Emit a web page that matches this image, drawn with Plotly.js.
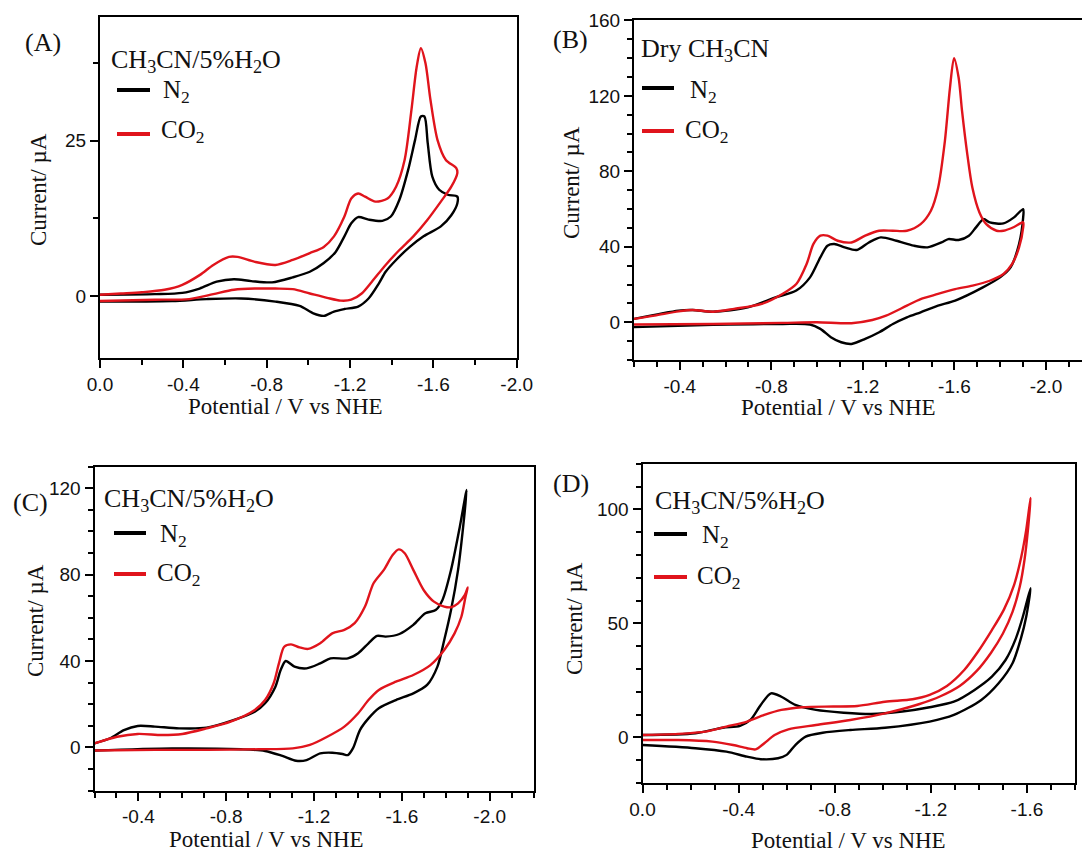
<!DOCTYPE html>
<html><head><meta charset="utf-8">
<script src="https://cdn.plot.ly/plotly-3.0.1.min.js"></script>
<style>html,body{margin:0;padding:0;background:#fff}#chart{width:1082px;height:856px}</style>
</head><body><div id="chart"></div>
<script>
// ---------- Panel A: CH3CN/5%H2O ----------
const aN2V = [0, -0.263, -0.395, -0.478, -0.56, -0.643, -0.726, -0.826, -0.925, -1.007, -1.074, -1.131, -1.173, -1.206, -1.239, -1.289, -1.355, -1.396, -1.437, -1.479, -1.512, -1.54, -1.557, -1.573, -1.595, -1.628, -1.669, -1.715,
  -1.715, -1.686, -1.636, -1.553, -1.487, -1.421, -1.371, -1.338, -1.289, -1.239, -1.173, -1.123, -1.074, -1.024, -0.958, -0.842, -0.677, -0.511, -0.346, 0];
const aN2I = [0.2, 0.3, 0.5, 1.2, 2.3, 2.7, 2.4, 2.2, 3.0, 3.9, 5.3, 7.1, 9.6, 11.7, 12.7, 12.3, 12.1, 12.8, 15.5, 20.3, 25.1, 28.9, 28.9, 24.6, 19.2, 17.1, 16.3, 16.0,
  14.9, 13.0, 11.2, 9.6, 7.9, 5.8, 3.9, 2.0, -0.4, -1.7, -2.1, -2.5, -3.2, -2.8, -1.6, -0.9, -0.4, -0.5, -0.8, -0.9];
const aCO2V = [0, -0.1, -0.2, -0.31, -0.395, -0.48, -0.544, -0.619, -0.66, -0.743, -0.842, -0.925, -1.007, -1.074, -1.123, -1.173, -1.206, -1.239, -1.272, -1.322, -1.38, -1.421, -1.462, -1.495, -1.52, -1.54, -1.562, -1.586, -1.62, -1.66, -1.71,
  -1.715, -1.686, -1.636, -1.57, -1.504, -1.437, -1.371, -1.305, -1.256, -1.206, -1.156, -1.09, -1.007, -0.925, -0.842, -0.743, -0.643, -0.544, -0.428, -0.263, 0];
const aCO2I = [0.2, 0.4, 0.6, 1.0, 1.8, 3.4, 5.0, 6.3, 6.3, 5.5, 5.0, 5.8, 6.9, 7.9, 9.6, 12.8, 15.7, 16.5, 16.0, 15.2, 15.7, 17.6, 21.9, 30.0, 36.9, 39.9, 37.5, 31.6, 25.1, 21.9, 20.6,
  19.8, 17.6, 15.2, 12.2, 9.6, 7.4, 5.0, 2.3, 0.4, -0.6, -0.75, -0.3, 0.4, 1.1, 1.2, 1.2, 1.0, 0.3, -0.5, -0.6, -0.8];

// ---------- Panel B: Dry CH3CN ----------
const bN2V = [-0.2, -0.395, -0.456, -0.546, -0.697, -0.818, -0.909, -0.969, -1.014, -1.045, -1.075, -1.12, -1.173, -1.226, -1.278, -1.346, -1.422, -1.482, -1.543, -1.573, -1.618, -1.663, -1.694, -1.727, -1.754, -1.814, -1.86, -1.9,
  -1.9, -1.882, -1.845, -1.799, -1.724, -1.603, -1.528, -1.452, -1.392, -1.331, -1.271, -1.21, -1.15, -1.105, -1.06, -1.014, -0.969, -0.848, -0.546, -0.2];
const bN2I = [1.8, 6.2, 6.5, 5.6, 7.9, 13.2, 16.8, 23.8, 34.4, 40.6, 41.5, 39.7, 38.3, 42.3, 45.0, 43.2, 40.6, 39.7, 42.3, 44.1, 43.6, 45.9, 50.3, 54.7, 52.9, 52.4, 55.6, 60.0,
  55.6, 41.5, 29.1, 23.8, 18.5, 11.5, 8.8, 5.3, 2.6, -0.9, -5.3, -8.8, -11.5, -10.6, -7.9, -3.5, -1.2, -0.9, -1.4, -2.6];
const bCO2V = [-0.2, -0.29, -0.395, -0.456, -0.546, -0.637, -0.758, -0.848, -0.909, -0.954, -0.984, -1.014, -1.045, -1.09, -1.15, -1.21, -1.271, -1.331, -1.392, -1.452, -1.497, -1.528, -1.558, -1.58, -1.598, -1.618, -1.633, -1.656, -1.678, -1.709, -1.739, -1.784, -1.814, -1.86, -1.9,
  -1.9, -1.882, -1.852, -1.814, -1.754, -1.679, -1.603, -1.528, -1.452, -1.392, -1.301, -1.241, -1.15, -0.999, -0.848, -0.546, -0.2];
const bCO2I = [1.8, 3.5, 5.8, 6.5, 5.6, 7.1, 9.7, 15.0, 20.3, 30.9, 41.5, 45.9, 45.9, 43.2, 42.3, 45.9, 48.5, 48.5, 48.5, 52.0, 59.1, 71, 96, 124, 140, 129.7, 112, 89, 71.4, 58.2, 52, 48.5, 48.5, 50.5, 53,
  50.3, 39.7, 30.9, 25.6, 22, 19.4, 17.6, 15.0, 12.3, 8.8, 3.5, 1.2, -0.5, 0, -0.35, -0.9, -1.2];

// ---------- Panel C: CH3CN/5%H2O ----------
const cN2V = [-0.2, -0.271, -0.334, -0.397, -0.475, -0.585, -0.711, -0.836, -0.93, -0.977, -1.024, -1.048, -1.071, -1.111, -1.166, -1.228, -1.275, -1.354, -1.401, -1.448, -1.487, -1.526, -1.589, -1.652, -1.707, -1.754, -1.785, -1.824, -1.864, -1.895,
  -1.884, -1.856, -1.824, -1.793, -1.762, -1.715, -1.652, -1.573, -1.495, -1.448, -1.409, -1.377, -1.354, -1.33, -1.283, -1.228, -1.166, -1.118, -1.056, -0.977, -0.867, -0.554, -0.2];
const cN2I = [1.85, 4.2, 8.0, 9.9, 9.6, 8.8, 9.1, 12.7, 16.5, 20.4, 28.1, 35.8, 40.0, 37.4, 36.6, 38.9, 41.2, 41.2, 43.6, 48.2, 51.6, 51.3, 52.5, 56.7, 62.1, 63.6, 68.3, 82.2, 102.2, 119.2,
  106.9, 82.2, 63.6, 49.7, 37.4, 28.9, 25.0, 21.9, 18.1, 13.4, 8.0, -0.5, -3.6, -3.1, -2.5, -2.8, -5.9, -6.2, -4.0, -1.7, -0.9, -0.5, -1.5];
const cCO2V = [-0.2, -0.303, -0.397, -0.507, -0.6, -0.711, -0.82, -0.93, -0.977, -1.016, -1.04, -1.064, -1.095, -1.134, -1.173, -1.228, -1.283, -1.338, -1.385, -1.432, -1.471, -1.518, -1.558, -1.586, -1.613, -1.652, -1.699, -1.746, -1.793, -1.824, -1.856, -1.887, -1.9,
  -1.89, -1.871, -1.84, -1.793, -1.73, -1.652, -1.573, -1.495, -1.448, -1.401, -1.338, -1.26, -1.181, -1.103, -0.946, -0.711, -0.475, -0.2];
const cCO2I = [1.85, 4.9, 6.2, 5.7, 6.2, 8.8, 11.9, 17.3, 21.9, 29.7, 38.9, 46.6, 47.7, 46.3, 45.6, 48.2, 52.8, 54.4, 57.5, 65.2, 76, 82.2, 89.1, 91.7, 89.9, 82.2, 72.9, 67.5, 65.2, 64.9, 66.7, 70.6, 74.1,
  69.8, 60.5, 52.8, 45.1, 38.1, 33.5, 30.4, 26.6, 21.9, 15.8, 9.6, 4.9, 1.1, -0.5, -0.9, -1.2, -1.2, -1.5];

// ---------- Panel D: CH3CN/5%H2O ----------
const dN2V = [0, -0.22, -0.334, -0.406, -0.449, -0.492, -0.535, -0.578, -0.636, -0.722, -0.837, -0.951, -1.081, -1.195, -1.296, -1.382, -1.454, -1.511, -1.554, -1.583, -1.615,
  -1.597, -1.575, -1.54, -1.482, -1.41, -1.296, -1.195, -1.009, -0.865, -0.75, -0.679, -0.636, -0.6, -0.564, -0.492, -0.435, -0.349, -0.22, 0];
const dN2I = [1.0, 1.8, 4.2, 5.0, 7.6, 14.2, 19.3, 17.8, 14.2, 12.0, 10.8, 10.2, 11.3, 13.2, 15.6, 20.8, 26.6, 33.9, 43.4, 52.9, 65.4,
  52.9, 43.4, 32.5, 23.7, 16.4, 9.8, 6.9, 4.2, 3.2, 2.0, 0.3, -3.4, -7.7, -9.2, -9.6, -8.5, -6.3, -4.8, -3.4];
const dCO2V = [0, -0.148, -0.263, -0.349, -0.435, -0.507, -0.578, -0.664, -0.794, -0.894, -1.009, -1.124, -1.195, -1.267, -1.339, -1.396, -1.454, -1.504, -1.547, -1.576, -1.597, -1.615,
  -1.605, -1.59, -1.57, -1.54, -1.5, -1.45, -1.39, -1.32, -1.24, -1.15, -1.009, -0.865, -0.722, -0.607, -0.55, -0.507, -0.471, -0.435, -0.377, -0.291, -0.148, 0];
const dCO2I = [1.0, 1.5, 2.5, 4.7, 6.9, 9.8, 12.0, 13.2, 13.5, 13.7, 15.6, 16.7, 18.6, 22.5, 29.5, 37.5, 47, 56, 67, 79, 91, 105,
  92, 78, 66, 55, 45.5, 37, 29, 22.5, 18, 14.5, 10.5, 7.6, 5.4, 3.5, 1.0, -2.6, -5.3, -4.8, -3.4, -1.9, -1.2, -1.2];

// ---------- Tick labels ----------
const xTicksA = [0, -0.4, -0.8, -1.2, -1.6, -2.0];
const xTextA  = ['0.0', '-0.4', '-0.8', '-1.2', '-1.6', '-2.0'];
const xTicksBC = [-0.4, -0.8, -1.2, -1.6, -2.0];
const xTextBC  = ['-0.4', '-0.8', '-1.2', '-1.6', '-2.0'];
const xTicksD = [0, -0.4, -0.8, -1.2, -1.6];
const xTextD  = ['0.0', '-0.4', '-0.8', '-1.2', '-1.6'];
const yTicksA = [0, 25];
const yTicksB = [0, 40, 80, 120, 160];
const yTicksC = [0, 40, 80, 120];
const yTicksD = [0, 50, 100];

// ---------- Texts ----------
const panelLetters = ['(A)', '(B)', '(C)', '(D)'];
const solventLabels = ['CH<sub>3</sub>CN/5%H<sub>2</sub>O', 'Dry CH<sub>3</sub>CN', 'CH<sub>3</sub>CN/5%H<sub>2</sub>O', 'CH<sub>3</sub>CN/5%H<sub>2</sub>O'];
const seriesNames = ['N<sub>2</sub>', 'CO<sub>2</sub>'];
const xTitle = 'Potential / V vs NHE';
const yTitle = 'Current/ \u00b5A';

// ---------- Styling / layout ----------
const W = 1082, H = 856;
const px = x => x / W;
const py = y => 1 - y / H;
const BLACK = '#000000', RED = '#e0141c';
const SERIF = 'Liberation Serif, Times New Roman, serif';
const SANS = 'Liberation Sans, Arial, sans-serif';

function xAxis(anchor, dom, range, vals, text, minorD) {
  return {
    anchor: anchor, domain: dom, range: range,
    tickmode: 'array', tickvals: vals, ticktext: text,
    showline: true, linecolor: '#000', linewidth: 2, mirror: true,
    ticks: 'outside', ticklen: 8, tickwidth: 2, tickcolor: '#000',
    minor: {tickmode: 'linear', tick0: 0, dtick: minorD, ticks: 'outside', ticklen: 5, tickwidth: 2, tickcolor: '#000', showgrid: false},
    showgrid: false, zeroline: false, automargin: false,
    tickfont: {family: SANS, size: 19, color: '#111'}
  };
}
function yAxis(anchor, dom, range, vals, minorD, mirror) {
  return {
    anchor: anchor, domain: dom, range: range,
    tickmode: 'array', tickvals: vals, ticktext: vals.map(String),
    showline: true, linecolor: '#000', linewidth: 2, mirror: mirror,
    ticks: 'outside', ticklen: 8, tickwidth: 2, tickcolor: '#000',
    minor: {tickmode: 'linear', tick0: 0, dtick: minorD, ticks: 'outside', ticklen: 5, tickwidth: 2, tickcolor: '#000', showgrid: false},
    showgrid: false, zeroline: false, automargin: false,
    tickfont: {family: SANS, size: 19, color: '#111'}
  };
}

function tr(x, y, ax, color, name) {
  return {x: x, y: y, xaxis: 'x' + ax, yaxis: 'y' + ax, mode: 'lines', showlegend: false, name: name,
    line: {color: color, width: 2.4, shape: 'spline', smoothing: 0.8}, hoverinfo: 'skip'};
}
const data = [
  tr(aN2V, aN2I, '', BLACK, seriesNames[0]), tr(aCO2V, aCO2I, '', RED, seriesNames[1]),
  tr(bN2V, bN2I, '2', BLACK, seriesNames[0]), tr(bCO2V, bCO2I, '2', RED, seriesNames[1]),
  tr(cN2V, cN2I, '3', BLACK, seriesNames[0]), tr(cCO2V, cCO2I, '3', RED, seriesNames[1]),
  tr(dN2V, dN2I, '4', BLACK, seriesNames[0]), tr(dCO2V, dCO2I, '4', RED, seriesNames[1])
];

const layout = {
  width: W, height: H, margin: {l: 0, r: 0, t: 0, b: 0},
  paper_bgcolor: '#fff', plot_bgcolor: '#fff', showlegend: false,
  xaxis:  xAxis('y',  [px(100), px(516.7)], [0, -2.0], xTicksA, xTextA, 0.2),
  yaxis:  yAxis('x',  [py(358.1), py(16.5)], [-10, 45], yTicksA, 12.5, true),
  xaxis2: xAxis('y2', [px(634), 1], [-0.2, -2.157], xTicksBC, xTextBC, 0.1),
  yaxis2: yAxis('x2', [py(360), py(20)], [-20, 160.2], yTicksB, 10, false),
  xaxis3: xAxis('y3', [px(94.5), px(533.6)], [-0.2, -2.2], xTicksBC, xTextBC, 0.1),
  yaxis3: yAxis('x3', [py(790.5), py(466.7)], [-20, 130], yTicksC, 10, true),
  xaxis4: xAxis('y4', [px(642.5), px(1075)], [0, -1.8], xTicksD, xTextD, 0.1),
  yaxis4: yAxis('x4', [py(782.9), py(463.7)], [-20, 120], yTicksD, 10, true),
  annotations: [], shapes: []
};

// pixel positions of panel letters, solvent labels, legend entries, axis titles
const letterPos = [[24, 43], [552, 39], [12, 502], [552, 483]];
const solventPos = [[110, 61], [640, 50], [103, 500], [654, 502]];
const legLine = [[117, 150, 90, 134], [642, 674, 88, 131], [114, 146, 533, 574], [654, 687, 534, 577]];
const legText = [[162, 92, 160, 132], [689, 91, 684, 131], [159, 535, 156, 574], [701, 536, 696, 577]];
const xTitlePos = [[285, 406], [838, 408], [266, 839], [848, 840]];
const yTitlePos = [[38, 190], [572, 183], [35, 621], [574, 619]];

const ann = (text, x, y, size, xa) => ({text: text, x: px(x), y: py(y), xref: 'paper', yref: 'paper',
  xanchor: xa || 'left', yanchor: 'middle', showarrow: false, borderpad: 0, font: {family: SERIF, size: size, color: '#111'}});
for (let i = 0; i < 4; i++) {
  layout.annotations.push(ann(panelLetters[i], letterPos[i][0], letterPos[i][1], 26));
  layout.annotations.push(ann(solventLabels[i], solventPos[i][0], solventPos[i][1], 26));
  layout.annotations.push(ann(seriesNames[0], legText[i][0], legText[i][1], 25));
  layout.annotations.push(ann(seriesNames[1], legText[i][2], legText[i][3], 25));
  layout.annotations.push(ann(xTitle, xTitlePos[i][0], xTitlePos[i][1], 23, 'center'));
  const yt = ann(yTitle, yTitlePos[i][0], yTitlePos[i][1], 23, 'center');
  yt.textangle = -90;
  layout.annotations.push(yt);
  const L = legLine[i];
  layout.shapes.push({type: 'line', xref: 'paper', yref: 'paper', x0: px(L[0]), x1: px(L[1]), y0: py(L[2]), y1: py(L[2]), line: {color: BLACK, width: 4}});
  layout.shapes.push({type: 'line', xref: 'paper', yref: 'paper', x0: px(L[0]), x1: px(L[1]), y0: py(L[3]), y1: py(L[3]), line: {color: RED, width: 4}});
}

Plotly.newPlot('chart', data, layout, {staticPlot: true, displayModeBar: false});
</script></body></html>
